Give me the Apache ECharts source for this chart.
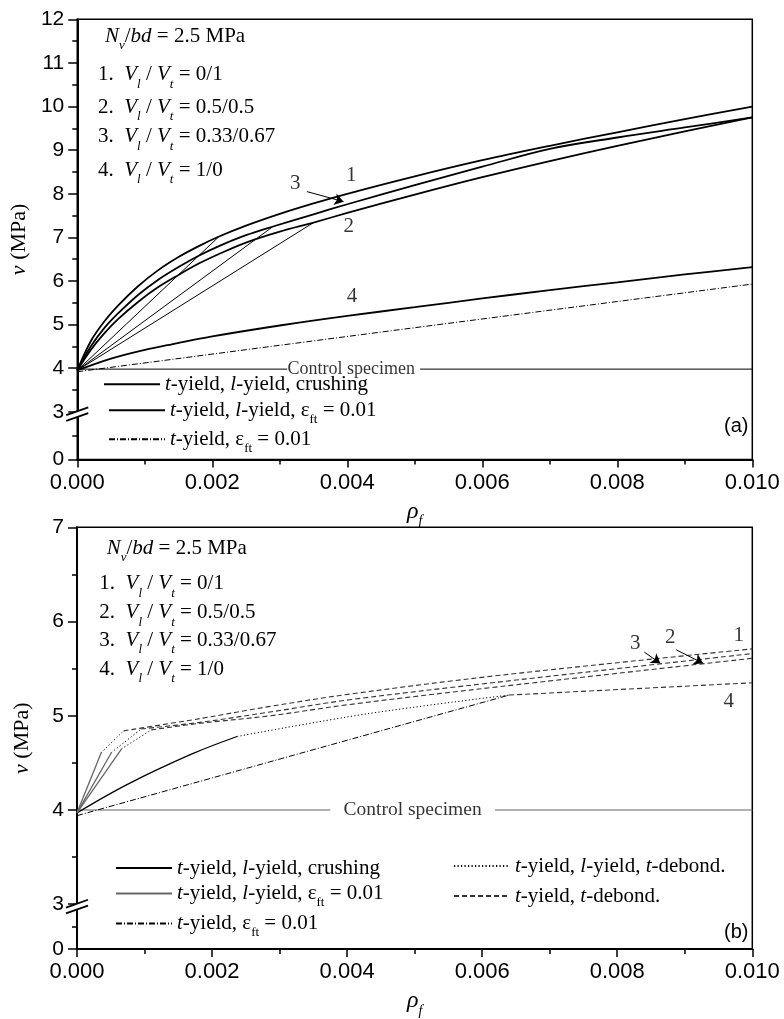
<!DOCTYPE html>
<html><head><meta charset="utf-8">
<script src="https://cdn.jsdelivr.net/npm/echarts@6/dist/echarts.min.js"></script>
<style>html,body{margin:0;padding:0;background:#fff}#c{width:784px;height:1019px}</style>
</head><body><div id="c"></div>
<script>
// ---------------- DATA ----------------
// x = rho_f, y = v (MPa)
// Panel (a)
const a_crush1 = [[0,3.95],[0.0002,4.62],[0.0004,5.07],[0.0006,5.43],[0.0009,5.88],[0.0012,6.25],[0.0015,6.55],[0.0018,6.8],[0.0021,7.02],[0.0025,7.27],[0.003,7.54],[0.0035,7.78],[0.004,8.0],[0.005,8.4],[0.006,8.77],[0.007,9.1],[0.008,9.41],[0.009,9.71],[0.01,10.0]];
const a_crush3 = [[0,3.95],[0.0002,4.5],[0.0004,4.92],[0.0006,5.25],[0.0009,5.68],[0.0012,6.03],[0.0015,6.32],[0.0018,6.58],[0.0021,6.8],[0.0025,7.05],[0.0029,7.25],[0.0035,7.53],[0.004,7.76],[0.005,8.2],[0.006,8.62],[0.007,9.03],[0.008,9.29],[0.009,9.52],[0.01,9.75]];
const a_crush2 = [[0,3.95],[0.0002,4.42],[0.0004,4.8],[0.0006,5.12],[0.0009,5.52],[0.0012,5.86],[0.0015,6.14],[0.0018,6.4],[0.0021,6.62],[0.0025,6.88],[0.003,7.13],[0.0035,7.34],[0.004,7.56],[0.005,7.98],[0.006,8.38],[0.007,8.75],[0.008,9.1],[0.009,9.43],[0.01,9.75]];
const a_crush4 = [[0,3.95],[0.0005,4.22],[0.001,4.42],[0.0014,4.55],[0.002,4.73],[0.003,4.98],[0.004,5.2],[0.005,5.4],[0.006,5.6],[0.007,5.79],[0.008,5.97],[0.009,6.15],[0.01,6.32]];
const a_eps1 = [[0,3.95],[0.0021,7.02]];
const a_eps3 = [[0,3.95],[0.0029,7.25]];
const a_eps2 = [[0,3.95],[0.0035,7.34]];
const a_ddot = [[0,3.92],[0.0048,4.89],[0.01,5.93]];
const a_control = [[0,3.98],[0.00311,3.98],[0.0041,'-'],[0.00508,3.98],[0.01,3.98]];
const a_labels = [[0.00406,8.42,'1'],[0.00402,7.25,'2'],[0.00323,8.24,'3'],[0.00407,5.64,'4']];
const a_ctrlLabel = [[0.00406,3.98,'Control specimen']];
const a_arrows = [[[0.003402,8.05],[0.003945,7.82]]];

// Panel (b)
const b_crush4 = [[0,3.97],[0.00074,4.27],[0.00172,4.6],[0.00237,4.78]];
const b_dot4 = [[0.00237,4.78],[0.00429,5.02],[0.0064,5.22]];
const b_ddot4 = [[0,3.94],[0.0064,5.22]];
const b_dash4 = [[0.0064,5.22],[0.01,5.35]];
const b_eps1 = [[0,3.97],[0.00036,4.61]];
const b_eps2 = [[0,3.97],[0.00051,4.61]];
const b_eps3 = [[0,3.97],[0.00066,4.65]];
const b_dot1 = [[0.00036,4.61],[0.00069,4.84]];
const b_dot2 = [[0.00051,4.61],[0.00095,4.86]];
const b_dot3 = [[0.00066,4.65],[0.0011,4.85]];
const b_dash1 = [[0.00069,4.84],[0.00182,4.97],[0.00286,5.10],[0.00404,5.23],[0.00627,5.43],[0.01,5.71]];
const b_dash2 = [[0.00095,4.86],[0.00182,4.93],[0.00286,5.04],[0.00404,5.17],[0.00627,5.36],[0.01,5.66]];
const b_dash3 = [[0.0011,4.85],[0.00182,4.92],[0.00286,5.0],[0.00404,5.12],[0.00627,5.31],[0.01,5.61]];
const b_control = [[0,4.0],[0.00375,4.0],[0.0049,'-'],[0.00619,4.0],[0.01,4.0]];
const b_labels = [[0.0098,5.85,'1'],[0.008785,5.83,'2'],[0.008267,5.77,'3'],[0.00965,5.156,'4']];
const b_ctrlLabel = [[0.00497,4.0,'Control specimen']];
const b_arrows = [[[0.0084,5.676],[0.008637,5.557]],[[0.008874,5.70],[0.00927,5.557]]];

// axis ticks
const xMax = 0.01, xStep = 0.002;
const yTicksA = [3,4,5,6,7,8,9,10,11,12];
const yTicksB = [3,4,5,6,7];
const yBreakZeroA = 1.908;   // where the "0" tick sits below the axis break (a)
const yBreakZeroB = 2.524;   // same for (b)

const infoLines = ['{i|N}{si|v}/{i|bd} = 2.5 MPa','1.  {i|V}{si|l} / {i|V}{si|t} = 0/1','2.  {i|V}{si|l} / {i|V}{si|t} = 0.5/0.5','3.  {i|V}{si|l} / {i|V}{si|t} = 0.33/0.67','4.  {i|V}{si|l} / {i|V}{si|t} = 1/0'];
const legendText = {
  crush_a:'{i|t}-yield, {i|l}-yield, crushing', eps_a:'{i|t}-yield, {i|l}-yield, ε{s|ft} = 0.01', dd_a:'{i|t}-yield, ε{s|ft} = 0.01',
  crush_b:'{i|t}-yield, {i|l}-yield, crushing', eps_b:'{i|t}-yield, {i|l}-yield, ε{s|ft} = 0.01', dd_b:'{i|t}-yield, ε{s|ft} = 0.01',
  dot_b:'{i|t}-yield, {i|l}-yield, {i|t}-debond.', dash_b:'{i|t}-yield, {i|t}-debond.'
};

// ---------------- STYLE ----------------
const SERIF = '"Liberation Serif","Times New Roman",serif';
const SANS = '"Liberation Sans",Arial,sans-serif';
const FS = 21;
const rich = {
  i: {fontFamily:SERIF, fontStyle:'italic', fontSize:FS, lineHeight:24, color:'#000'},
  s: {fontFamily:SERIF, fontSize:13, lineHeight:14, padding:[18,0,0,0], color:'#000'},
  si:{fontFamily:SERIF, fontStyle:'italic', fontSize:13, lineHeight:14, padding:[20,0,0,0], color:'#000'}
};
const baseText = {fontFamily:SERIF, fontSize:FS, lineHeight:24, color:'#000', fontWeight:'normal', rich:rich};

const ST = {
  crush_a:{color:'#000', width:1.8, type:'solid'},
  eps_a:{color:'#000', width:1, type:'solid'},
  dd_a:{color:'#000', width:1, type:[6,2,1,2]},
  ctrl_a:{color:'#000', width:1, type:'solid'},
  crush_b:{color:'#000', width:1.3, type:'solid'},
  eps_b:{color:'#666', width:1.3, type:'solid'},
  dd_b:{color:'#000', width:1, type:[6,2,1,2]},
  dot_b:{color:'#000', width:1, type:[1.2,2.3]},
  dash_b:{color:'#333', width:1.1, type:[5,3]},
  ctrl_b:{color:'#666', width:1.2, type:'solid'}
};

function line(name, data, g, smooth){
  return {type:'line', name:name, data:data, xAxisIndex:g, yAxisIndex:g*2, symbol:'none', showSymbol:false,
    smooth: smooth ? 0.35 : false, lineStyle:ST[name], itemStyle:{color:ST[name].color},
    silent:true, animation:false, connectNulls:false};
}
function labels(lbls, arrows, g, fs){
  const s = {type:'scatter', xAxisIndex:g, yAxisIndex:g*2, symbolSize:1, itemStyle:{color:'rgba(0,0,0,0)'},
    silent:true, animation:false, z:5,
    data: lbls.map(d=>({value:[d[0],d[1]], label:{formatter:d[2]}})),
    label:{show:true, position:'inside', fontFamily:SERIF, fontSize:fs, color:'#000'}
  };
  if (arrows) s.markLine = {silent:true, animation:false, symbol:['none','arrow'], symbolSize:9, label:{show:false},
      lineStyle:{color:'#000', width:1, type:'solid'},
      data: arrows.map(a=>[{coord:a[0]},{coord:a[1]}])};
  return s;
}

const grids = [
  {left:77, right:31.7, top:19.3, height:440.2},
  {left:77, right:31.7, top:527.3, height:439.4}
];

function xAxis(g, nameGap){
  return {type:'value', gridIndex:g, min:0, max:xMax, interval:xStep,
    axisLine:{show:true, onZero:false, lineStyle:{color:'#000', width:2}},
    axisTick:{show:true, inside:false, length:8, lineStyle:{color:'#000', width:1.5}},
    minorTick:{show:true, splitNumber:2, length:5, lineStyle:{color:'#000', width:1.5}},
    splitLine:{show:false}, minorSplitLine:{show:false},
    axisLabel:{fontFamily:SANS, fontSize:22, color:'#000', margin:12, formatter:v=>v.toFixed(3)},
    name:'{i|ρ}{si|f}', nameLocation:'middle', nameGap:nameGap,
    nameTextStyle:{fontFamily:SERIF, fontSize:23, color:'#000', rich:{i:{fontFamily:SERIF, fontStyle:'italic', fontSize:24, lineHeight:26}, si:{fontFamily:SERIF, fontStyle:'italic', fontSize:14, lineHeight:14, padding:[20,0,0,0]}}}
  };
}
function yAxes(g, ticks, zero){
  const labVals = [zero].concat(ticks);
  const minor = [];
  minor.push((zero+3)/2);
  for (let k=0;k<ticks.length-1;k++) minor.push(ticks[k]+0.5);
  return [
    {type:'value', gridIndex:g, min:zero, max:ticks[ticks.length-1],
      axisLine:{show:true, onZero:false, lineStyle:{color:'#000', width:2}},
      axisTick:{show:true, inside:false, length:9, customValues:labVals, lineStyle:{color:'#000', width:1.5}},
      splitLine:{show:false},
      axisLabel:{fontFamily:SANS, fontSize:21, color:'#000', margin:13, customValues:labVals,
        formatter:v=> (v < 2.9 ? '0' : String(Math.round(v)))},
      name:'{i|v} (MPa)', nameLocation:'middle', nameRotate:90, nameGap:44,
      nameTextStyle:{fontFamily:SERIF, fontSize:22, color:'#000', rich:{i:{fontFamily:SERIF, fontStyle:'italic', fontSize:22}}}
    },
    {type:'value', gridIndex:g, min:zero, max:ticks[ticks.length-1], position:'left', offset:0,
      axisLine:{show:false}, splitLine:{show:false}, axisLabel:{show:false},
      axisTick:{show:true, inside:false, length:5, customValues:minor, lineStyle:{color:'#000', width:1.5}}
    }
  ];
}

function titleLine(text, left, cy, hasSub){
  return {text:text, left:left, top: cy - (hasSub ? 17 : 12), padding:0, itemGap:0, textStyle:baseText};
}
function legendRow(name, left, cy, hasSub){
  return {data:[name], left:left, top: cy - (hasSub ? 17 : 12), orient:'horizontal', padding:0, itemGap:0,
    itemWidth:56, itemHeight:14, selectedMode:false,
    itemStyle:{color:'rgba(0,0,0,0)', borderColor:'rgba(0,0,0,0)', borderWidth:0},
    formatter:n=>legendText[n], textStyle:baseText};
}

const infoA = [[105,41],[98,79.5],[98,112],[98,141.7],[98,175]];
const infoB = [[106.7,553],[99.3,588.3],[99.3,617.3],[99.3,645],[99.3,674]];

const titles = [];
infoLines.forEach((t,k)=>{ titles.push(titleLine(t, infoA[k][0], infoA[k][1], true)); });
infoLines.forEach((t,k)=>{ titles.push(titleLine(t, infoB[k][0], infoB[k][1], true)); });
titles.push({text:'(a)', left:724, top:416, padding:0, textStyle:{fontFamily:SANS, fontSize:20, fontWeight:'normal', color:'#000'}});
titles.push({text:'(b)', left:724, top:922, padding:0, textStyle:{fontFamily:SANS, fontSize:20, fontWeight:'normal', color:'#000'}});

const legends = [
  legendRow('crush_a', 103, 384.3, false),
  legendRow('eps_a', 108, 411.7, true),
  legendRow('dd_a', 108, 440.7, true),
  legendRow('crush_b', 115, 868, false),
  legendRow('eps_b', 115, 895, true),
  legendRow('dd_b', 115, 925, true),
  legendRow('dot_b', 453, 866, false),
  legendRow('dash_b', 453, 896, false)
];

const series = [
  line('ctrl_a', a_control, 0, false),
  line('dd_a', a_ddot, 0, false),
  line('eps_a', a_eps1, 0, false),
  line('eps_a', a_eps3, 0, false),
  line('eps_a', a_eps2, 0, false),
  line('crush_a', a_crush1, 0, true),
  line('crush_a', a_crush3, 0, true),
  line('crush_a', a_crush2, 0, true),
  line('crush_a', a_crush4, 0, true),
  labels(a_labels, a_arrows, 0, 21),
  labels(a_ctrlLabel, null, 0, 18),
  line('ctrl_b', b_control, 1, false),
  line('dd_b', b_ddot4, 1, false),
  line('crush_b', b_crush4, 1, true),
  line('eps_b', b_eps1, 1, false),
  line('eps_b', b_eps2, 1, false),
  line('eps_b', b_eps3, 1, false),
  line('dot_b', b_dot4, 1, true),
  line('dot_b', b_dot1, 1, true),
  line('dot_b', b_dot2, 1, true),
  line('dot_b', b_dot3, 1, true),
  line('dash_b', b_dash4, 1, false),
  line('dash_b', b_dash1, 1, true),
  line('dash_b', b_dash2, 1, true),
  line('dash_b', b_dash3, 1, true),
  labels(b_labels, b_arrows, 1, 21),
  labels(b_ctrlLabel, null, 1, 19.5)
];

const chart = echarts.init(document.getElementById('c'), null, {renderer:'canvas'});
chart.setOption({
  animation:false,
  backgroundColor:'#fff',
  grid: grids.map(g=>Object.assign({show:true, borderColor:'#000', borderWidth:1.5, backgroundColor:'transparent', containLabel:false}, g)),
  xAxis:[xAxis(0,25), xAxis(1,20)],
  yAxis: yAxes(0, yTicksA, yBreakZeroA).concat(yAxes(1, yTicksB, yBreakZeroB)),
  title: titles,
  legend: legends,
  series: series
});

// axis-break marks "//" on the left axes at y = 3
const gfx = [];
[[0,0],[1,2]].forEach(([xi, yi])=>{
  const x0 = chart.convertToPixel({xAxisIndex:xi}, 0);
  const y3 = chart.convertToPixel({yAxisIndex:yi}, 3);
  gfx.push({type:'polygon', z:100, shape:{points:[[x0-11,y3+3.3],[x0+11,y3-4.5],[x0+11,y3+1.3],[x0-11,y3+9.1]]}, style:{fill:'#fff'}});
  gfx.push({type:'line', z:101, shape:{x1:x0-11,y1:y3+3.3,x2:x0+11,y2:y3-4.5}, style:{stroke:'#000', lineWidth:1.8}});
  gfx.push({type:'line', z:101, shape:{x1:x0-11,y1:y3+9.1,x2:x0+11,y2:y3+1.3}, style:{stroke:'#000', lineWidth:1.8}});
});
chart.setOption({graphic: gfx});
</script></body></html>
